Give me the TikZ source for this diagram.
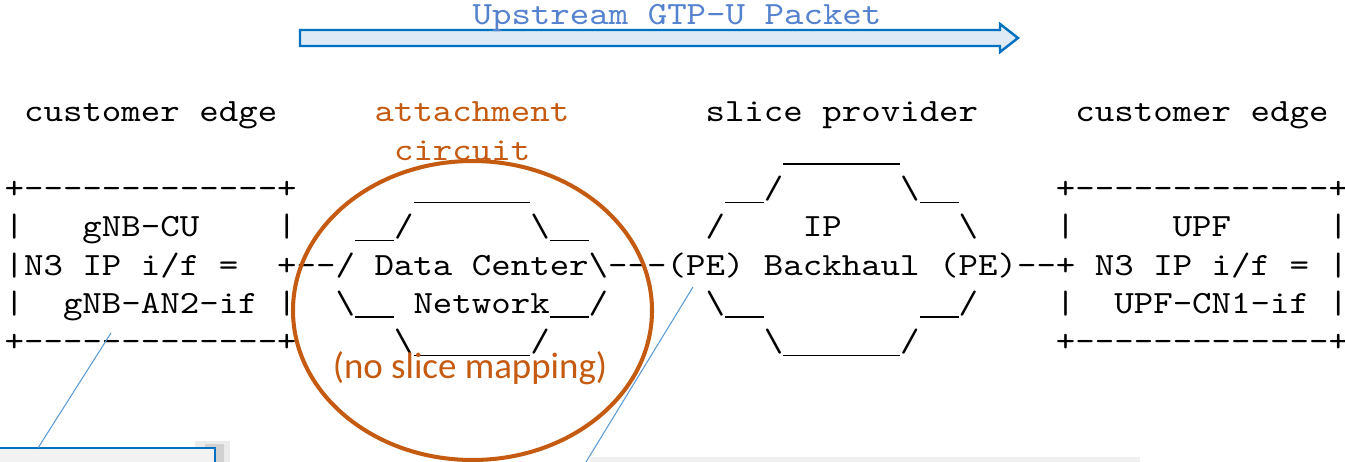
\documentclass[tikz,border=0pt]{standalone}
\usepackage{fontspec}
\setmonofont{lmmono10-regular.otf}[WordSpace={1,0,0}]
\newfontfamily\calfont{Carlito}
\usepackage{graphicx}
\usepackage{tikz}
\usetikzlibrary{calc}
\definecolor{acOrange}{RGB}{197,90,17}
\definecolor{upBlue}{RGB}{84,130,206}
\definecolor{arrBlue}{RGB}{0,112,192}
\definecolor{arrFill}{RGB}{222,235,247}
\definecolor{lineBlue}{RGB}{91,155,213}
\definecolor{boxBlue}{RGB}{0,112,192}
\newcommand{\asciifont}{\ttfamily\fontsize{18.46pt}{22pt}\selectfont}
\newcommand{\wide}[1]{\scalebox{1.1434}[1]{#1}}
\newcommand{\bs}{\textbackslash}
\newcommand{\gap}[1]{\hspace*{#1\dimexpr0.525em\relax}}
\newcommand{\us}[1]{\rule[-0.14em]{#1\dimexpr0.525em\relax}{0.05em}}
\tikzset{ascii/.style={font=\asciifont, inner sep=0pt, anchor=base west}}
\tikzset{callLine/.style={draw=lineBlue, line width=0.6pt}}
\tikzset{noteBox/.style={draw=boxBlue, fill=black!5, line width=1.7pt}}

\begin{document}
\begin{tikzpicture}[x=0.02cm,y=-0.02cm]
	\tikzstyle{every node}=[inner sep=0pt]
	\useasboundingbox (0,0) rectangle (1345,462);
	\clip (0,0) rectangle (1345,462);
	
	\draw[arrBlue, fill=arrFill, line width=1.4pt, line join=miter] (300,30) -- (1000,30) -- (1000,24) -- (1018,38) -- (1000,52) -- (1000,46) -- (300,46) -- cycle;
	\node[font=\asciifont, text=upBlue, anchor=base] (upLbl) at (677,25) {\wide{Upstream GTP-U Packet}};
	
	\node[ascii] (row0) at (4.3,122) {\wide{\gap{1}customer edge\gap{5}\textcolor{acOrange}{attachment}\gap{7}slice provider\gap{5}customer edge}};
	\node[ascii] (row1) at (4.3,160.3) {\wide{\gap{20}\textcolor{acOrange}{circuit}\gap{13}\us{6}}};
	\node[ascii] (row2) at (4.3,198.6) {\wide{+-------------+\gap{6}\us{6}\gap{10}\us{2}/\gap{6}\bs\us{2}\gap{5}+-------------+}};
	\node[ascii] (row3) at (4.3,236.9) {\wide{|\gap{3}gNB-CU\gap{4}|\gap{3}\us{2}/\gap{6}\bs\us{2}\gap{6}/\gap{4}IP\gap{6}\bs\gap{4}|\gap{5}UPF\gap{5}|}};
	\node[ascii] (row4) at (4.3,275.2) {\wide{|N3 IP i/f =\gap{2}+--/ Data Center\bs---(PE) Backhaul (PE)--+ N3 IP i/f = |}};
	\node[ascii] (row5) at (4.3,313.5) {\wide{|\gap{2}gNB-AN2-if |\gap{2}\bs\us{2} Network\us{2}/\gap{5}\bs\us{2}\gap{8}\us{2}/\gap{4}|\gap{2}UPF-CN1-if |}};
	\node[ascii] (row6) at (4.3,351.8) {\wide{+-------------+\gap{5}\bs\us{6}/\gap{11}\bs\us{6}/\gap{7}+-------------+}};
	
	\draw[acOrange, line width=2.3pt] (472.5,310.5) ellipse (179.5 and 149.5);
	\node[font=\calfont\fontsize{21pt}{24pt}\selectfont, text=acOrange, anchor=base] (noMap) at (470,378) {(no slice mapping)};
	
	%\draw[red] (0,448) -- (1345,448);
	\fill[black!8] (195,441) rectangle (230,520);
	\fill[black!18] (205,444) rectangle (224,520);
	\draw[noteBox] (-20,448) rectangle (215,520);
	\fill[black!6] (590,457) rectangle (1140,470);
	
	\coordinate (anTip) at (111,333);
	\coordinate (anFoot) at (38,448);
	\coordinate (peTip) at (693,287);
	\coordinate (peFoot) at (586,462);
	\draw[callLine] (anTip) -- (anFoot);
	\draw[callLine] (peTip) -- (peFoot);
\end{tikzpicture}
\end{document}
